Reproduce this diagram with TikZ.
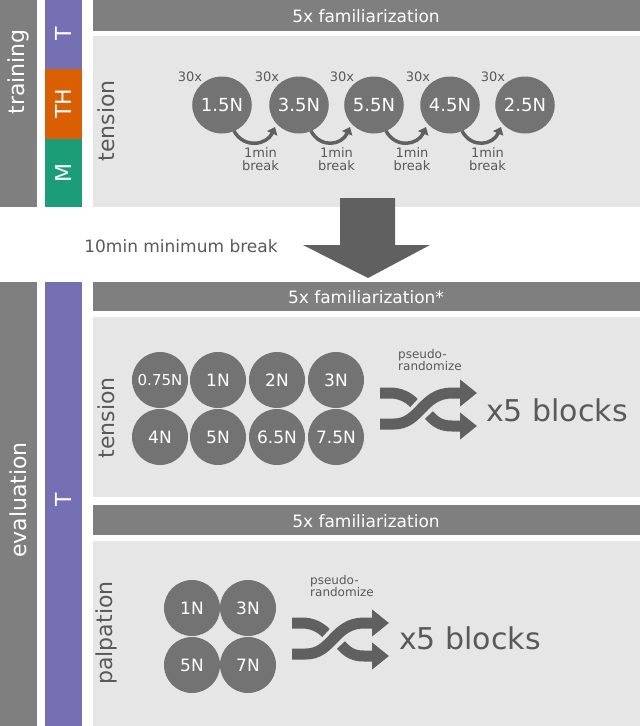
\documentclass[tikz,border=0pt]{standalone}
\usepackage{fontspec}
\setmainfont{DejaVu Sans}
\usetikzlibrary{shapes.geometric, arrows.meta, positioning, calc}
\definecolor{bargray}{HTML}{7F7F7F}
\definecolor{panelgray}{HTML}{E6E6E6}
\definecolor{ballgray}{HTML}{737373}
\definecolor{arrgray}{HTML}{606060}
\definecolor{txtgray}{HTML}{595959}
\definecolor{tpurple}{HTML}{7570B3}
\definecolor{thorange}{HTML}{D95F02}
\definecolor{mgreen}{HTML}{1B9E77}
\newcommand{\fsz}[1]{\fontsize{#1}{#1}\selectfont}
\begin{document}
\begin{tikzpicture}[x=1pt, y=-1pt,
    bar/.style={fill=bargray, draw=none},
    panel/.style={fill=panelgray, draw=none},
    bartext/.style={text=white, font=\fsz{17}},
    sidetext/.style={text=white, font=\fsz{22}, rotate=90},
    paneltext/.style={text=txtgray, font=\fsz{22}, rotate=90},
    ball/.style={circle, fill=ballgray, text=white, minimum size=56pt, inner sep=0pt, font=\fsz{17}},
    oval/.style={ellipse, fill=ballgray, text=white, minimum width=55pt, minimum height=57pt, inner sep=0pt, font=\fsz{18}},
    small/.style={text=txtgray, font=\fsz{13}, align=center, inner sep=0pt},
    pause/.style={-{Triangle[length=7pt, width=11pt]}, arrgray, line width=3.5pt},
    shuf/.style={arrgray, line width=11pt},
    shufhead/.style={shuf, -{Triangle[length=17pt, width=26pt]}},
    blocks/.style={text=txtgray, font=\fsz{30}}
]
\useasboundingbox (0,0) rectangle (640,726);

% training block
\fill[bar] (0,0) rectangle (37,207);
\fill[fill=tpurple] (45,0) rectangle (82,69);
\fill[fill=thorange] (45,69) rectangle (82,139);
\fill[fill=mgreen] (45,139) rectangle (82,207);
\fill[bar] (93,0) rectangle (640,31);
\fill[panel] (93,36) rectangle (640,207);
\node[sidetext] (train) at (18,72) {training};
\node[sidetext] (tT) at (63,34) {T};
\node[sidetext] (tTH) at (63,104) {TH};
\node[sidetext] (tM) at (63,173) {M};
\node[bartext] (fam1) at (366,16) {5x familiarization};
\node[paneltext] (ten1) at (106,121) {tension};

% training forces
\foreach \f/\x [count=\i] in {1.5N/222, 3.5N/299, 5.5N/374, 4.5N/450, 2.5N/525} {
  \node[oval] (c\i) at (\x,105) {\f};
  \node[small] (r\i) at (\x-32,77) {30x};
}
\foreach \i [count=\j from 2] in {1,...,4} {
  \draw[pause] ($(c\i)+(12,26)$) .. controls ($(c\i)+(22,44)$) and ($(c\j)+(-32,40)$) .. ($(c\j)+(-24,22)$);
  \node[small] (b\i) at ($(c\i)!0.5!(c\j)+(0,54)$) {1min\\break};
}

% break arrow
\fill[arrgray] (340,198) -- (395,198) -- (395,245) -- (430,245) -- (368,278) -- (303,245) -- (340,245) -- cycle;
\node[text=txtgray, font=\fsz{17}] (brk) at (181,246) {10min minimum break};

% evaluation block
\fill[bar] (0,282) rectangle (37,726);
\fill[fill=tpurple] (45,282) rectangle (82,726);
\fill[bar] (93,282) rectangle (640,311);
\fill[panel] (93,317) rectangle (640,497);
\fill[bar] (93,505) rectangle (640,535);
\fill[panel] (93,541) rectangle (640,726);
\node[sidetext] (eval) at (18,500) {evaluation};
\node[sidetext] (eT) at (63,500) {T};
\node[bartext] (fam2) at (366,297) {5x familiarization*};
\node[bartext] (fam3) at (366,521) {5x familiarization};
\node[paneltext] (ten2) at (106,418) {tension};
\node[paneltext] (palp) at (106,633) {palpation};

% tension forces
\node[ball, font=\fsz{15}] (t1) at (160,380) {0.75N};
\foreach \f/\x [count=\i from 2] in {1N/218, 2N/277, 3N/336} {
  \node[ball] (t\i) at (\x,380) {\f};
}
\foreach \f/\x [count=\i] in {4N/160, 5N/218, 6.5N/277, 7.5N/336} {
  \node[ball] (u\i) at (\x,437) {\f};
}

% palpation forces
\node[ball] (p1) at (192,608) {1N};
\node[ball] (p2) at (248,608) {3N};
\node[ball] (p3) at (192,665) {5N};
\node[ball] (p4) at (248,665) {7N};

% shuffle icons
\foreach \sx/\sy/\nm in {380/393/s1, 292/623/s2} {
  \begin{scope}[shift={(\sx,\sy)}]
    \coordinate (\nm a) at (0,0);
    \coordinate (\nm b) at (0,31);
    \coordinate (\nm c) at (97,0);
    \coordinate (\nm d) at (97,33);
    \draw[shuf] (\nm a) -- (10,0) .. controls (20,0) and (28,4) .. (34,10);
    \draw[shufhead] (\nm b) -- (14,31) .. controls (40,31) and (42,0) .. (72,0) -- (\nm c);
    \draw[shufhead] (49,22) .. controls (56,30) and (62,33) .. (72,33) -- (\nm d);
  \end{scope}
}
\node[small, font=\fsz{12}, align=left] (ps1) at (430,360) {pseudo-\\randomize};
\node[blocks] (x1) at (557,410) {x5 blocks};
\node[small, font=\fsz{12}, align=left] (ps2) at (342,586) {pseudo-\\randomize};
\node[blocks] (x2) at (470,638) {x5 blocks};
\end{tikzpicture}
\end{document}
